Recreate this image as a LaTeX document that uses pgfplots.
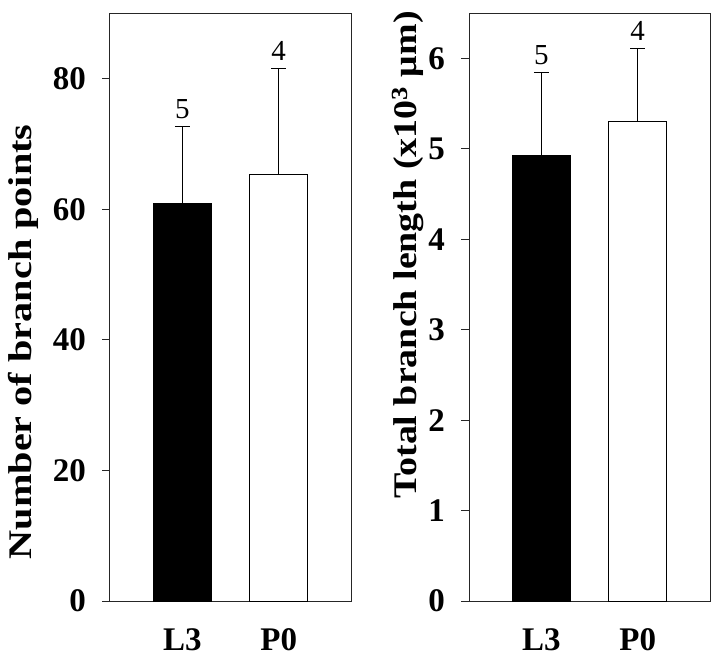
\documentclass[border=0pt]{standalone}
\usepackage{fontspec}
\setmainfont{Liberation Serif}
\newfontfamily\labfontA[FakeStretch=1.22]{Liberation Serif}
\newfontfamily\labfontB[FakeStretch=1.15]{Liberation Serif}
\usepackage{pgfplots}
\pgfplotsset{compat=1.18}
\begin{document}
\begin{tikzpicture}
\path[use as bounding box] (0pt,0pt) rectangle (720pt,-658pt);
\pgfplotsset{
  myax/.style={
    at={(#1,-13.3pt)}, anchor=north west,
    scale only axis, width=241pt, height=587.7pt,
    xmin=-0.75, xmax=1.75, ymin=0,
    xtick={0,1}, xticklabels={L3,P0},
    axis line style={black!85, line width=1pt},
    tick align=outside, ytick pos=left,
    major x tick style={draw=none},
    major y tick style={black!85, line width=1pt},
    major tick length=8pt,
    ticklabel style={font=\fontsize{33}{33}\selectfont\bfseries},
    /pgf/number format/assume math mode=true,
    xticklabel style={anchor=north, inner sep=0pt, yshift=-19pt},
    yticklabel style={anchor=east, inner sep=0pt, xshift=-16pt},
    clip=false,
  },
  barblack/.style={ybar, bar width=0.6, fill=black, draw=black, line width=1pt,
    error bars/.cd, y dir=plus, y explicit,
    error bar style={line width=1pt, black},
    error mark options={rotate=90, mark size=7.5pt, line width=1pt, black}},
  barwhite/.style={ybar, bar width=0.6, fill=white, draw=black, line width=1pt,
    error bars/.cd, y dir=plus, y explicit,
    error bar style={line width=1pt, black},
    error mark options={rotate=90, mark size=7.5pt, line width=1pt, black}},
  nlab/.style={draw=none, mark=none, nodes near coords, point meta=explicit symbolic,
    nodes near coords style={font=\fontsize{29}{29}\selectfont, anchor=base, inner sep=0pt, yshift=8pt}},
}
\begin{axis}[myax=110pt, ymax=90, ytick={0,20,40,60,80},
  ylabel={Number of branch points},
  ylabel style={font=\labfontA\fontsize{33}{33}\selectfont\bfseries,
    at={(axis description cs:-0.324,0.441)}, anchor=base}]
\addplot[barblack] coordinates {(0,60.9) +- (0,11.8)};
\addplot[barwhite] coordinates {(1,65.3) +- (0,16.3)};
\addplot[nlab] coordinates {(0,72.7)[5] (1,81.6)[4]};
\end{axis}
\begin{axis}[myax=469pt, ymax=6.5, ytick={0,1,2,3,4,5,6},
  ylabel={Total branch length (x10\textsuperscript{3} μm)},
  ylabel style={font=\labfontB\fontsize{33}{33}\selectfont\bfseries,
    at={(axis description cs:-0.218,0.589)}, anchor=base}]
\addplot[barblack] coordinates {(0,4.93) +- (0,0.92)};
\addplot[barwhite] coordinates {(1,5.30) +- (0,0.81)};
\addplot[nlab] coordinates {(0,5.85)[5] (1,6.11)[4]};
\end{axis}
\end{tikzpicture}
\end{document}
